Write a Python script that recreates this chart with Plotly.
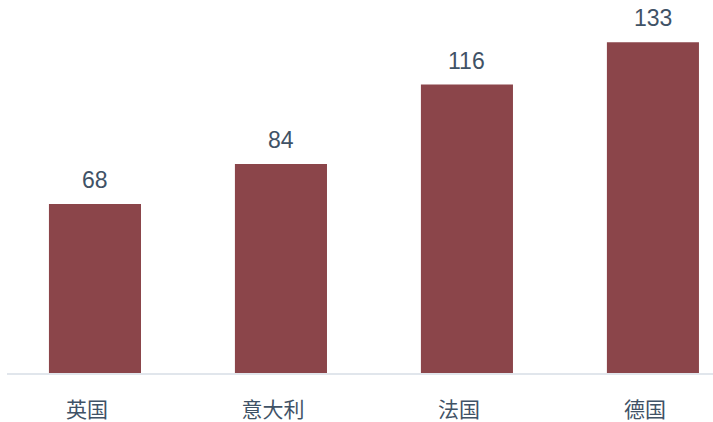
import plotly.graph_objects as go

categories = ["英国", "意大利", "法国", "德国"]
values = [68, 84, 116, 133]
value_labels = [str(v) for v in values]

bar_color = "#8B454A"
text_color = "#3F5266"

x_range = [-0.473, 3.323]
label_offset = 0.043  # category labels sit slightly left of bar centres

idx = list(range(len(categories)))

fig = go.Figure()
fig.add_trace(go.Bar(
    x=idx,
    y=values,
    width=0.495,
    marker=dict(color=bar_color, line=dict(width=0)),
    hoverinfo="skip",
))
# invisible helper trace so the label axis is drawn
fig.add_trace(go.Scatter(
    x=idx, y=values, xaxis="x2", yaxis="y",
    mode="markers", marker=dict(opacity=0, size=1),
    hoverinfo="skip", showlegend=False,
))

# value labels above bars
for i, (v, t) in enumerate(zip(values, value_labels)):
    fig.add_annotation(
        x=i, y=v, text=t, showarrow=False, yanchor="bottom", yshift=9,
        font=dict(family="Liberation Sans, Arial, sans-serif", size=23, color=text_color),
    )

fig.update_layout(
    width=713, height=422,
    margin=dict(l=7, r=0, t=0, b=49),
    plot_bgcolor="white", paper_bgcolor="white",
    showlegend=False,
    xaxis=dict(
        range=x_range,
        automargin=False,
        showgrid=False, zeroline=False,
        showline=True, linecolor="#E1E6EC", linewidth=2,
        ticks="", showticklabels=False,
    ),
    xaxis2=dict(
        overlaying="x", anchor="y", side="bottom",
        range=[x_range[0] + label_offset, x_range[1] + label_offset],
        automargin=False,
        showgrid=False, zeroline=False, showline=False,
        tickmode="array",
        tickvals=idx,
        ticktext=categories,
        ticks="", ticklabelstandoff=22,
        tickfont=dict(family="Noto Sans CJK SC", size=21, color=text_color),
    ),
    yaxis=dict(
        range=[0, 150],
        automargin=False,
        showgrid=False, zeroline=False, showline=False,
        showticklabels=False, ticks="",
    ),
)

fig.write_html("out.html")
